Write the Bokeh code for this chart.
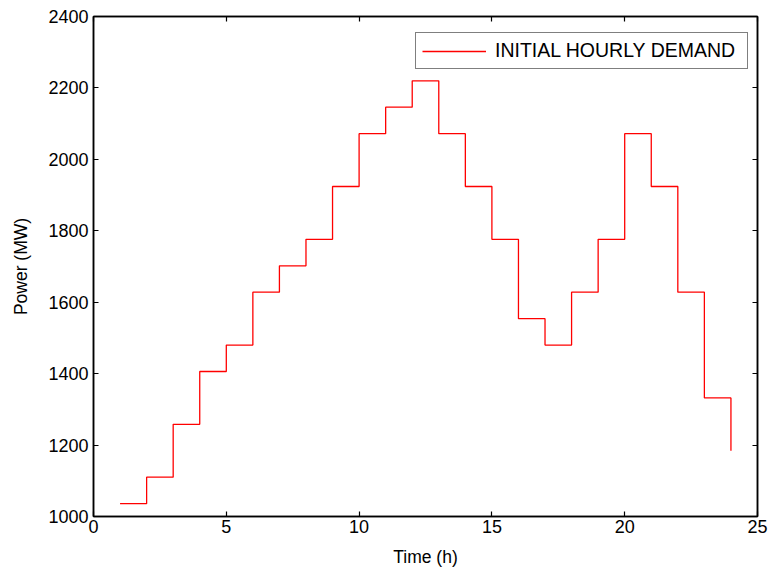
from bokeh.plotting import figure
from bokeh.models import LinearAxis, Range1d, FixedTicker, Legend, LegendItem
from bokeh.embed import file_html
from bokeh.resources import INLINE

hours = list(range(1, 25))
demand = [1036, 1110, 1258, 1406, 1480, 1628, 1702, 1776, 1924, 2072, 2146, 2220,
          2072, 1924, 1776, 1554, 1480, 1628, 1776, 2072, 1924, 1628, 1332, 1184]
x_ticks = [0, 5, 10, 15, 20, 25]
y_ticks = [1000, 1200, 1400, 1600, 1800, 2000, 2200, 2400]
series_name = "INITIAL HOURLY DEMAND"

FONT = "Liberation Sans"

p = figure(width=770, height=571, output_backend="svg", toolbar_location=None,
           x_range=Range1d(0, 25), y_range=Range1d(1000, 2400),
           min_border_left=93, min_border_right=13, min_border_top=16, min_border_bottom=55)
p.background_fill_color = "white"
p.border_fill_color = "white"
p.outline_line_color = "black"
p.outline_line_width = 1.5
p.xgrid.visible = False
p.ygrid.visible = False

r = p.step(hours, demand, mode="after", line_color="#ff0000", line_width=1.3)

def style(ax, labels=True):
    ax.major_tick_in = 5
    ax.major_tick_out = 0
    ax.minor_tick_line_color = None
    ax.axis_line_color = "black"
    ax.axis_line_width = 1.5
    ax.major_tick_line_color = "black"
    ax.major_tick_line_width = 1.2
    ax.major_label_text_font = FONT
    ax.major_label_text_font_size = "18px"
    ax.major_label_text_color = "black"
    ax.axis_label_text_font = FONT
    ax.axis_label_text_font_size = "17.5px"
    ax.axis_label_text_font_style = "normal"
    ax.axis_label_text_color = "black"
    if not labels:
        ax.major_label_text_font_size = "0px"
        ax.major_label_standoff = 0

p.xaxis.ticker = FixedTicker(ticks=x_ticks)
p.yaxis.ticker = FixedTicker(ticks=y_ticks)
p.xaxis.axis_label = "Time (h)"
p.yaxis.axis_label = "Power (MW)"
style(p.xaxis[0])
style(p.yaxis[0])
p.xaxis.major_label_standoff = 3
p.yaxis.major_label_standoff = 5
p.xaxis.axis_label_standoff = 11
p.yaxis.axis_label_standoff = 14

top = LinearAxis(ticker=FixedTicker(ticks=x_ticks))
right = LinearAxis(ticker=FixedTicker(ticks=y_ticks))
style(top, labels=False)
style(right, labels=False)
top.major_label_text_color = None
right.major_label_text_color = None
p.add_layout(top, "above")
p.add_layout(right, "right")
p.min_border_top = 16
p.min_border_right = 13

legend = Legend(items=[LegendItem(label=series_name, renderers=[r])],
                location=(322, 447))
legend.border_line_color = "black"
legend.border_line_width = 1.5
legend.label_text_font = FONT
legend.label_text_font_size = "19.5px"
legend.label_text_color = "black"
legend.glyph_width = 64
legend.glyph_height = 16
legend.label_height = 16
legend.label_width = 246
legend.label_standoff = 9
legend.padding = 6
legend.spacing = 0
legend.margin = 0
legend.background_fill_alpha = 1.0
p.add_layout(legend, "center")

open("out.html", "w").write(file_html(p, INLINE))
